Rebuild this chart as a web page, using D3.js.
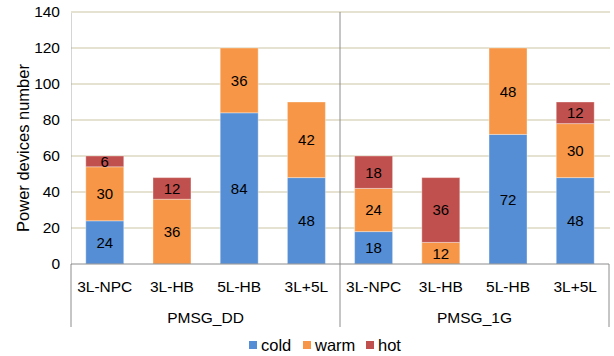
<!DOCTYPE html>
<html>
<head>
<meta charset="UTF-8">
<script src="https://cdn.jsdelivr.net/npm/d3@7"></script>
<style>
body { margin: 0; background: #fff; }
svg { display: block; font-family: "Liberation Sans", Arial, sans-serif; }
</style>
</head>
<body>
<div id="chart"></div>
<script>
// data
const groups = ["PMSG_DD", "PMSG_1G"];
const topologies = ["3L-NPC", "3L-HB", "5L-HB", "3L+5L"];
const series = ["cold", "warm", "hot"];
const cold = [24, 0, 84, 48, 18, 0, 72, 48];
const warm = [30, 36, 36, 42, 24, 12, 48, 30];
const hot = [6, 12, 0, 0, 18, 36, 0, 12];
const yTicks = [0, 20, 40, 60, 80, 100, 120, 140];
const colors = ["#558ed5", "#f79646", "#c0504d"];

const W = 614, H = 356;
const plot = {left: 71, right: 609, top: 12, base: 264};

const rows = [];
groups.forEach((g, gi) => topologies.forEach((t, ti) => {
  const i = gi * topologies.length + ti;
  rows.push({key: g + "|" + t, group: g, topo: t, cold: cold[i], warm: warm[i], hot: hot[i]});
}));

const x = d3.scaleBand().domain(rows.map(d => d.key)).range([plot.left, plot.right]).paddingInner(0.435).paddingOuter(0.22);
const y = d3.scaleLinear().domain([0, 140]).range([plot.base, plot.top]);
const color = d3.scaleOrdinal().domain(series).range(colors);

const svg = d3.select("#chart").append("svg").attr("width", W).attr("height", H);

// gridlines
svg.append("g").selectAll("line").data(yTicks.filter(v => v > 0)).enter().append("line")
  .attr("x1", plot.left).attr("x2", plot.right + 1)
  .attr("y1", d => y(d)).attr("y2", d => y(d))
  .attr("stroke", "#ddd9c3").attr("stroke-width", 1.3);

// y axis
const yAxis = svg.append("g").attr("transform", "translate(" + plot.left + ",0)")
  .call(d3.axisLeft(y).tickValues(yTicks).tickSize(0).tickPadding(11));
yAxis.select(".domain").attr("stroke", "#aaa").attr("stroke-dasharray", "1,1");
yAxis.selectAll("text").attr("font-size", 15.5).attr("fill", "#000").attr("font-family", "Liberation Sans, Arial, sans-serif");

svg.append("text")
  .attr("transform", "translate(29," + ((plot.top + plot.base) / 2 + 10) + ") rotate(-90)")
  .attr("text-anchor", "middle")
  .attr("font-size", 16.5)
  .text("Power devices number");

// stacked bars
const stack = d3.stack().keys(series)(rows);
const layer = svg.append("g").selectAll("g").data(stack).enter().append("g")
  .attr("fill", d => color(d.key));

layer.selectAll("rect").data(d => d.filter(s => s[1] > s[0])).enter().append("rect")
  .attr("x", d => x(d.data.key))
  .attr("width", x.bandwidth())
  .attr("y", d => y(d[1]))
  .attr("height", d => y(d[0]) - y(d[1]))
  .attr("stroke", "#fff").attr("stroke-opacity", 0.35).attr("stroke-width", 1);

layer.selectAll("text").data(d => d.filter(s => s[1] > s[0])).enter().append("text")
  .attr("x", d => x(d.data.key) + x.bandwidth() / 2)
  .attr("y", d => (y(d[0]) + y(d[1])) / 2)
  .attr("dy", "0.36em")
  .attr("text-anchor", "middle")
  .attr("font-size", 15)
  .attr("fill", "#000")
  .text(d => d[1] - d[0]);

// category axis
const axisLines = svg.append("g").attr("stroke", "#8c8c8c").attr("stroke-width", 1);
axisLines.append("line").attr("x1", plot.left).attr("x2", plot.right).attr("y1", plot.base).attr("y2", plot.base);
axisLines.append("line").attr("x1", plot.left).attr("x2", plot.left).attr("y1", plot.base).attr("y2", 327);
const sep = x(rows[topologies.length].key) - x.step() * x.paddingInner() / 2;
axisLines.append("line").attr("x1", sep).attr("x2", sep).attr("y1", plot.top).attr("y2", 327);
axisLines.append("line").attr("x1", plot.right).attr("x2", plot.right).attr("y1", plot.base).attr("y2", 327);

svg.append("g").selectAll("text").data(rows).enter().append("text")
  .attr("x", d => x(d.key) + x.bandwidth() / 2)
  .attr("y", 292)
  .attr("text-anchor", "middle")
  .attr("font-size", 15.5)
  .text(d => d.topo);

svg.append("g").selectAll("text").data(groups).enter().append("text")
  .attr("x", (g, i) => i === 0 ? (plot.left + sep) / 2 : (sep + plot.right) / 2)
  .attr("y", 323)
  .attr("text-anchor", "middle")
  .attr("font-size", 15.5)
  .text(d => d);

// legend
const legendX = [249, 303, 366];
const leg = svg.append("g").selectAll("g").data(series).enter().append("g")
  .attr("transform", (d, i) => "translate(" + legendX[i] + ",341)");
leg.append("rect").attr("width", 8).attr("height", 8).attr("fill", d => color(d));
leg.append("text").attr("x", 12).attr("y", 10).attr("font-size", 16.5).text(d => d);
</script>
</body>
</html>
